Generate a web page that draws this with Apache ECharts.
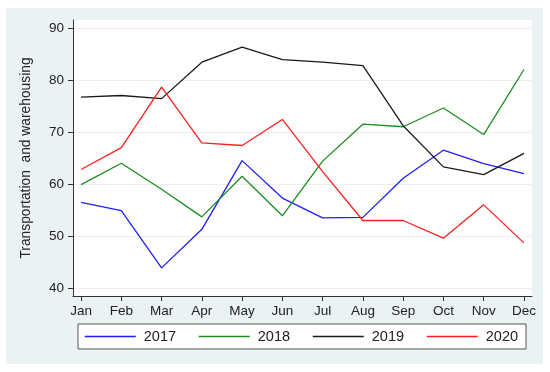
<!DOCTYPE html>
<html>
<head>
<meta charset="utf-8">
<script src="https://cdn.jsdelivr.net/npm/echarts@6/dist/echarts.min.js"></script>
<style>
html,body{margin:0;padding:0;background:#fff;}
#c{width:550px;height:372px;}
</style>
</head>
<body>
<div id="c"></div>
<script>
const months = ['Jan','Feb','Mar','Apr','May','Jun','Jul','Aug','Sep','Oct','Nov','Dec'];
const yTicks = [40, 50, 60, 70, 80, 90];
const s2017 = [56.5, 54.9, 43.9, 51.3, 64.5, 57.3, 53.5, 53.6, 61.1, 66.5, 63.9, 62.0];
const s2018 = [59.9, 64.0, 59.0, 53.7, 61.5, 53.9, 64.4, 71.5, 71.0, 74.6, 69.5, 82.0];
const s2019 = [76.7, 77.0, 76.4, 83.4, 86.3, 83.9, 83.4, 82.75, 71.2, 63.3, 61.8, 65.9];
const s2020 = [62.8, 67.0, 78.6, 67.9, 67.4, 72.4, 62.4, 53.0, 53.0, 49.6, 56.0, 48.7];

const seriesDefs = [
  {name: '2017', data: s2017, color: '#1f1ff5'},
  {name: '2018', data: s2018, color: '#1e8c1e'},
  {name: '2019', data: s2019, color: '#1a1a1a'},
  {name: '2020', data: s2020, color: '#fa2020'}
];
const xIdx = months.map((m, i) => i + 1);

const chart = echarts.init(document.getElementById('c'), null, {renderer: 'canvas'});
const font = 'Liberation Sans, Arial, sans-serif';
chart.setOption({
  animation: false,
  backgroundColor: '#fff',
  textStyle: {fontFamily: font},
  graphic: [{
    type: 'rect', z: -10, silent: true,
    shape: {x: 6, y: 8, width: 537, height: 356},
    style: {fill: '#eaf2f3'}
  }],
  grid: {
    left: 73, top: 20, right: 18, bottom: 76,
    show: true, backgroundColor: '#ffffff', borderWidth: 0
  },
  xAxis: {
    type: 'value', min: 0.8, max: 12.2,
    axisLine: {show: true, onZero: false, lineStyle: {color: '#333', width: 1}},
    axisTick: {show: true, length: 5, customValues: xIdx, lineStyle: {color: '#333'}},
    axisLabel: {
      customValues: xIdx, margin: 8, color: '#222', fontSize: 13.5, fontFamily: font,
      formatter: v => months[Math.round(v) - 1] || ''
    },
    splitLine: {show: false}
  },
  yAxis: {
    type: 'value', min: 38.5, max: 91.5,
    name: 'Transportation  and warehousing', nameLocation: 'middle', nameGap: 40,
    nameTextStyle: {color: '#222', fontSize: 13.8, fontFamily: font},
    axisLine: {show: true, onZero: false, lineStyle: {color: '#333', width: 1}},
    axisTick: {show: true, length: 5, customValues: yTicks, lineStyle: {color: '#333'}},
    axisLabel: {customValues: yTicks, margin: 9, color: '#222', fontSize: 13.5, fontFamily: font},
    splitLine: {show: true, lineStyle: {color: '#e8f1f1', width: 1}}
  },
  legend: {
    left: 78, top: 324,
    itemWidth: 51, itemHeight: 14, itemGap: 22,
    padding: [5, 8, 5, 6],
    backgroundColor: '#fff', borderColor: '#555', borderWidth: 1,
    itemStyle: {opacity: 0},
    lineStyle: {width: 1.5},
    textStyle: {fontSize: 14.5, color: '#222', fontFamily: font, padding: [0, 0, 0, 3]},
    data: seriesDefs.map(s => s.name)
  },
  series: seriesDefs.map(s => ({
    name: s.name, type: 'line', symbol: 'none',
    data: s.data.map((v, i) => [xIdx[i], v]),
    lineStyle: {color: s.color, width: 1.3},
    itemStyle: {color: s.color}
  }))
});
</script>
</body>
</html>
